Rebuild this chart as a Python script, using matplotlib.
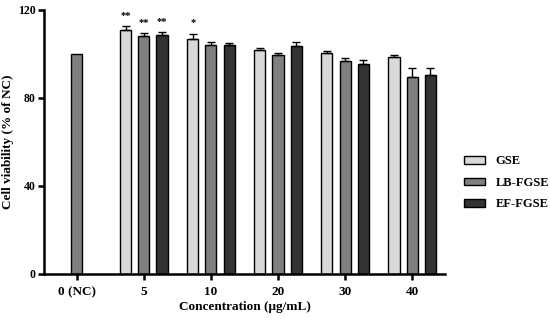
import numpy as np
import matplotlib
matplotlib.use('Agg')
import matplotlib.pyplot as plt

plt.rcParams['font.family'] = ['Liberation Serif', 'DejaVu Serif']
plt.rcParams['font.weight'] = 'bold'

groups = ['0 (NC)', '5', '10', '20', '30', '40']
series = ['GSE', 'LB-FGSE', 'EF-FGSE']
colors = ['#d9d9d9', '#808080', '#333333']

nc_value = 100.0
gse = [110.9, 106.7, 101.8, 100.3, 98.6]
lb = [108.2, 104.1, 99.5, 97.0, 89.5]
ef = [108.5, 104.1, 103.8, 95.6, 90.5]
gse_err = [1.7, 2.4, 1.1, 1.1, 0.8]
lb_err = [1.2, 1.5, 0.8, 1.2, 4.0]
ef_err = [1.3, 1.0, 1.8, 1.5, 3.0]
stars = [['**', '**', '**'], ['*', '', ''], ['', '', ''], ['', '', ''], ['', '', '']]

fig = plt.figure(figsize=(5.5, 3.2), dpi=100)
ax = fig.add_axes([0.08, 0.144, 0.729, 0.825])

w = 0.165
off = 0.27
x = np.arange(1, 6)

ax.bar([0], [nc_value], w, color=colors[1], edgecolor='black', linewidth=1.0)

vals = [gse, lb, ef]
errs = [gse_err, lb_err, ef_err]
for i in range(3):
    pos = x + (i - 1) * off
    e = np.array(errs[i])
    ax.bar(pos, vals[i], w, color=colors[i], edgecolor='black', linewidth=1.0,
           label=series[i],
           yerr=[np.zeros_like(e), e], capsize=3,
           error_kw=dict(elinewidth=1.0, capthick=1.0, ecolor='black'))
    for j in range(5):
        if stars[j][i]:
            ax.text(pos[j], vals[i][j] + errs[i][j] + 3, stars[j][i],
                    ha='center', va='bottom', fontsize=7.5)

ax.set_xlim(-0.49, 5.49)
ax.set_ylim(0, 120)
ax.set_yticks([0, 40, 80, 120])
ax.set_xticks(range(6))
ax.set_xticklabels(groups, fontsize=9.5, fontweight='bold')
ax.tick_params(axis='y', labelsize=8.5, width=1.8, length=4, pad=2)
ax.tick_params(axis='x', width=1.8, length=4, pad=5)
for s in ['top', 'right']:
    ax.spines[s].set_visible(False)
for s in ['left', 'bottom']:
    ax.spines[s].set_linewidth(1.8)

ax.set_ylabel('Cell viability (% of NC)', fontsize=9.5, fontweight='bold', labelpad=3)
ax.set_xlabel('Concentration (μg/mL)', fontsize=9.5, fontweight='bold', labelpad=2)

ax.legend(loc='center left', bbox_to_anchor=(1.02, 0.345), frameon=False,
          fontsize=9, handlelength=1.7, handleheight=0.55, labelspacing=0.75)

fig.savefig('out.png', dpi=100)
